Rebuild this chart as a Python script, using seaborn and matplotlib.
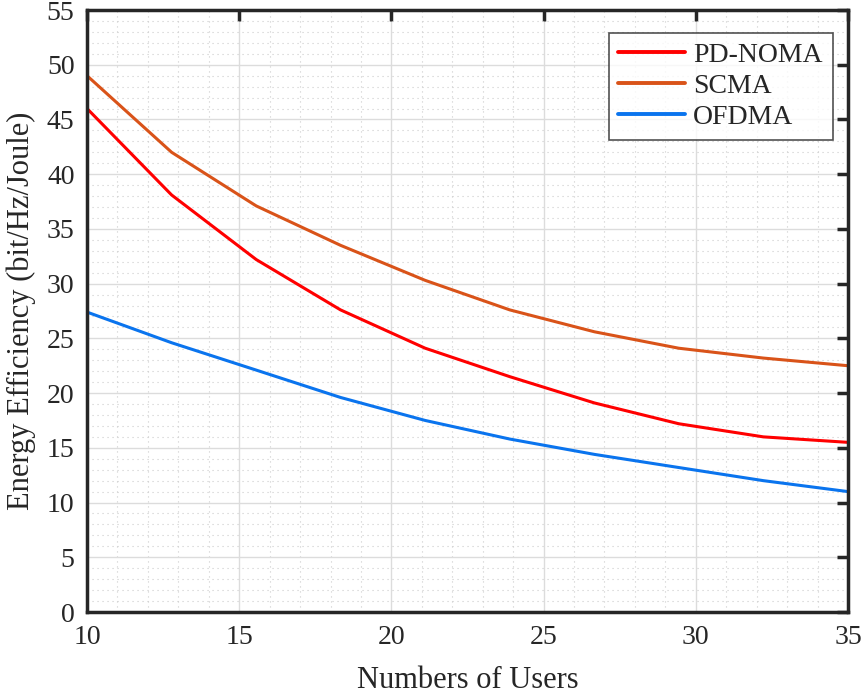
import numpy as np
import pandas as pd
import matplotlib
matplotlib.use("Agg")
import matplotlib.pyplot as plt
from matplotlib.ticker import MultipleLocator
import seaborn as sns

users = [10, 12.78, 15.56, 18.33, 21.11, 23.89, 26.67, 29.44, 32.22, 35]
pd_noma = [46.0, 38.1, 32.2, 27.6, 24.1, 21.5, 19.1, 17.2, 16.0, 15.5]
scma = [49.0, 42.0, 37.1, 33.5, 30.3, 27.6, 25.6, 24.1, 23.2, 22.5]
ofdma = [27.4, 24.6, 22.1, 19.6, 17.5, 15.8, 14.4, 13.2, 12.0, 11.0]
series_names = ["PD-NOMA", "SCMA", "OFDMA"]
colors = ["#ff0000", "#d95319", "#0a74ee"]

df = pd.DataFrame({
    "Users": users * 3,
    "EE": pd_noma + scma + ofdma,
    "Scheme": sum([[n] * len(users) for n in series_names], []),
})

sns.set_style("white")
plt.rcParams["font.family"] = ["Liberation Serif", "DejaVu Serif"]

fig = plt.figure(figsize=(8.67, 6.95), dpi=100)
ax = fig.add_axes([87 / 867, 1 - 612 / 695, (848 - 87) / 867, (612 - 10) / 695])

sns.lineplot(data=df, x="Users", y="EE", hue="Scheme", palette=colors,
             hue_order=series_names, linewidth=2.2, ax=ax)

ax.set_xlim(10, 35)
ax.set_ylim(0, 55)
ax.xaxis.set_major_locator(MultipleLocator(5))
ax.yaxis.set_major_locator(MultipleLocator(5))
ax.xaxis.set_minor_locator(MultipleLocator(1))
ax.yaxis.set_minor_locator(MultipleLocator(1))
ax.grid(True, which="major", color="#dcdcdc", linewidth=1.0)
ax.grid(True, which="minor", color="#cccccc", linestyle=(0, (1, 3.5)), linewidth=0.8)
ax.set_axisbelow(True)

for s in ax.spines.values():
    s.set_visible(True)
    s.set_color("#262626")
    s.set_linewidth(2.5)

ax.tick_params(which="major", direction="in", length=8, width=2.5, color="#262626",
               top=True, right=True, labelsize=20, pad=9, labelcolor="#262626")
ax.tick_params(which="minor", length=0)

ax.set_xlabel("Numbers of Users", fontsize=22, labelpad=12, color="#262626")
ax.set_ylabel("Energy Efficiency (bit/Hz/Joule)", fontsize=22, labelpad=8, color="#262626")

leg = ax.legend(loc="upper right", fontsize=20, frameon=True, fancybox=False,
                edgecolor="#262626", handlelength=2.4, handletextpad=0.3,
                borderpad=0.35, labelspacing=0.2, bbox_to_anchor=(0.998, 0.985))
leg.get_frame().set_linewidth(1.2)
leg.set_title(None)
for line in leg.get_lines():
    line.set_linewidth(2.8)

fig.savefig("out.png", dpi=100)
